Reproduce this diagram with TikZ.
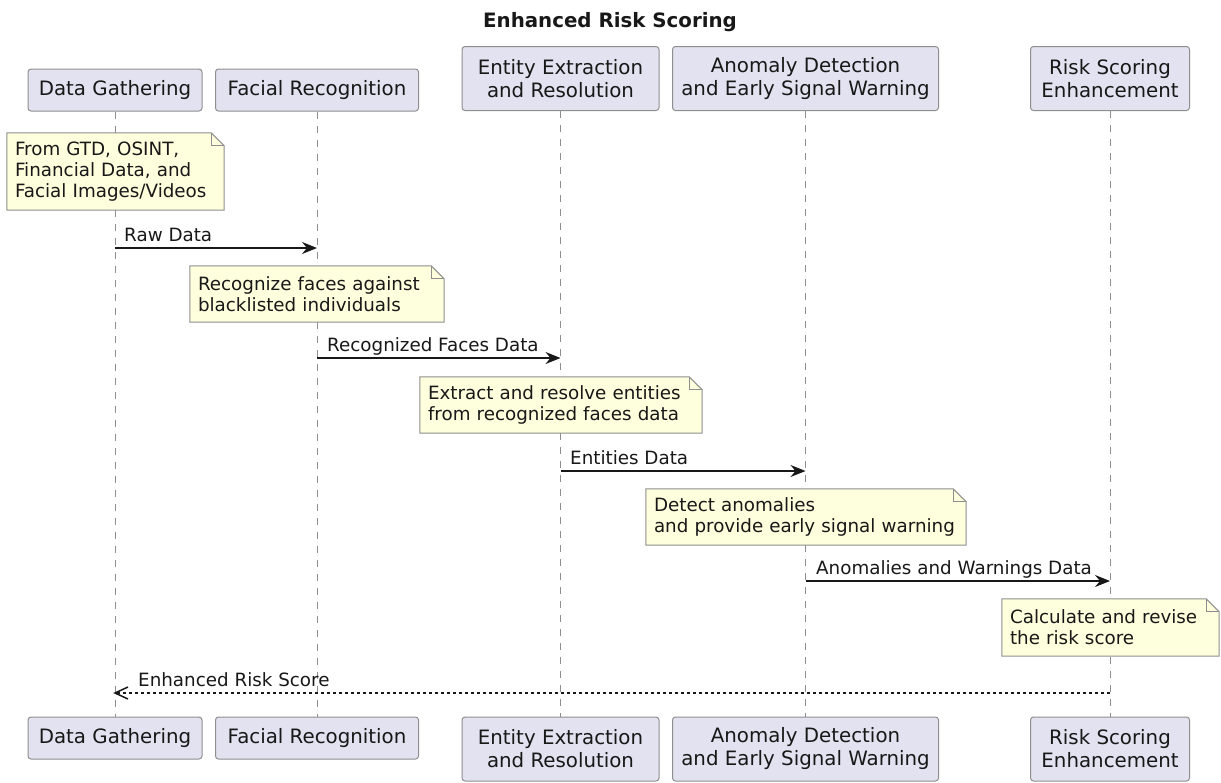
\documentclass[tikz,border=0pt]{standalone}
\usepackage{fontspec}
\setmainfont{DejaVu Sans}
\usetikzlibrary{arrows.meta,decorations.markings}

\definecolor{partfill}{HTML}{E2E2F0}
\definecolor{partdraw}{HTML}{8E8E8E}
\definecolor{notefill}{HTML}{FEFFDD}
\definecolor{notedraw}{HTML}{8E8E8E}
\definecolor{ink}{HTML}{181818}
\definecolor{lifecol}{HTML}{8E8E8E}

\pgfdeclarelayer{lifelines}
\pgfdeclarelayer{notebg}
\pgfsetlayers{lifelines,notebg,main}

\tikzset{
  part/.style={draw=partdraw, fill=partfill, line width=1pt, rounded corners=3pt,
    align=center, inner sep=0pt, text=ink, font=\fontsize{19.8}{23}\selectfont},
  note/.style={inner xsep=8pt, inner ysep=0pt, align=left, text=ink,
    font=\fontsize{18.3}{21}\selectfont},
  lbl/.style={inner sep=0pt, anchor=base west, text=ink, font=\fontsize{18.3}{21}\selectfont},
  titletext/.style={inner sep=0pt, anchor=base, text=ink, font=\fontsize{19.8}{23}\selectfont\bfseries},
  life/.style={draw=lifecol, line width=1pt, dash pattern=on 7pt off 7pt},
  msg/.style={draw=ink, line width=1.4pt, -{Stealth[length=15pt,width=12pt,inset=5pt]}},
  % dotted return line with a solid open chevron at its end
  reply/.style={draw=ink, line width=1.3pt, dash pattern=on 3pt off 3pt,
    postaction={decorate, decoration={markings,
      mark=at position 1 with {\draw[solid, ink, line width=1.5pt, line join=miter]
        (-13pt,6pt) -- (0pt,0pt) -- (-13pt,-6pt);}}}},
  fold/.style={draw=notedraw, line width=1pt},
}

% folded-corner outline behind a note node
\newcommand\dogear[1]{%
  \begin{pgfonlayer}{notebg}
    \draw[fold, fill=notefill] (#1.north west) -- ([xshift=-13pt]#1.north east)
      -- ([yshift=-13pt]#1.north east) -- (#1.south east) -- (#1.south west) -- cycle;
    \draw[fold] ([xshift=-13pt]#1.north east) -- ([xshift=-13pt,yshift=-13pt]#1.north east)
      -- ([yshift=-13pt]#1.north east);
  \end{pgfonlayer}}

\begin{document}
\begin{tikzpicture}[x=1pt, y=-1pt]
  \useasboundingbox (0,0) rectangle (1221,782);

  \node[titletext] (title) at (610,27) {Enhanced Risk Scoring};

  % participants, top row
  \node[part, minimum width=174pt, minimum height=42pt] (dgT) at (115,90) {Data Gathering};
  \node[part, minimum width=203pt, minimum height=42pt] (frT) at (317,90) {Facial Recognition};
  \node[part, minimum width=197pt, minimum height=64pt] (eeT) at (560.5,78.5) {Entity Extraction\\and Resolution};
  \node[part, minimum width=266pt, minimum height=64pt] (adT) at (805.5,78.5) {Anomaly Detection\\and Early Signal Warning};
  \node[part, minimum width=159pt, minimum height=64pt] (rsT) at (1110,78.5) {Risk Scoring\\Enhancement};

  % participants, bottom row
  \node[part, minimum width=174pt, minimum height=42pt] (dgB) at (115,738) {Data Gathering};
  \node[part, minimum width=203pt, minimum height=42pt] (frB) at (317,738) {Facial Recognition};
  \node[part, minimum width=197pt, minimum height=64pt] (eeB) at (560.5,749) {Entity Extraction\\and Resolution};
  \node[part, minimum width=266pt, minimum height=64pt] (adB) at (805.5,749) {Anomaly Detection\\and Early Signal Warning};
  \node[part, minimum width=159pt, minimum height=64pt] (rsB) at (1110,749) {Risk Scoring\\Enhancement};

  % lifelines
  \begin{pgfonlayer}{lifelines}
    \foreach \p in {dg,fr,ee,ad,rs}
      \draw[life] (\p T.south) -- (\p B.north);
  \end{pgfonlayer}

  % notes
  \node[note, text width=201pt, minimum height=77pt] (n1) at (115.5,171.5)
    {From GTD, OSINT,\\Financial Data, and\\Facial Images/Videos};
  \dogear{n1}
  \node[note, text width=238pt, minimum height=56pt] (n2) at (317,294)
    {Recognize faces against\\blacklisted individuals};
  \dogear{n2}
  \node[note, text width=266pt, minimum height=56pt] (n3) at (561,405)
    {Extract and resolve entities\\from recognized faces data};
  \dogear{n3}
  \node[note, text width=304pt, minimum height=56pt] (n4) at (806,517)
    {Detect anomalies\\and provide early signal warning};
  \dogear{n4}
  \node[note, text width=201pt, minimum height=57pt] (n5) at (1110.5,627.5)
    {Calculate and revise\\the risk score};
  \dogear{n5}

  % message rows
  \coordinate (r1) at (0,248);
  \coordinate (r2) at (0,358);
  \coordinate (r3) at (0,471);
  \coordinate (r4) at (0,581);
  \coordinate (r5) at (0,693);

  \draw[msg] (dgT |- r1) -- (frT |- r1);
  \node[lbl] (l1) at (124,241) {Raw Data};
  \draw[msg] (frT |- r2) -- (eeT |- r2);
  \node[lbl] (l2) at (327,351) {Recognized Faces Data};
  \draw[msg] (eeT |- r3) -- (adT |- r3);
  \node[lbl] (l3) at (570,464) {Entities Data};
  \draw[msg] (adT |- r4) -- (rsT |- r4);
  \node[lbl] (l4) at (816,574) {Anomalies and Warnings Data};
  \draw[reply] (rsT |- r5) -- (dgT |- r5);
  \node[lbl] (l5) at (138,686) {Enhanced Risk Score};
\end{tikzpicture}
\end{document}
